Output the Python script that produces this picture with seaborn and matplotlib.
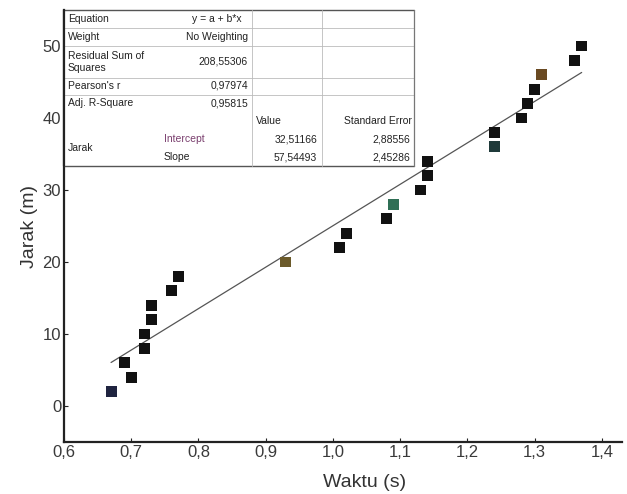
import numpy as np
import pandas as pd
import matplotlib
matplotlib.use("Agg")
import matplotlib.pyplot as plt
from matplotlib.lines import Line2D
from matplotlib.patches import Rectangle
import seaborn as sns

# ---- data ----
waktu = [0.67, 0.69, 0.70, 0.72, 0.72, 0.73, 0.73, 0.76, 0.77,
         0.93, 1.01, 1.02, 1.08, 1.09, 1.13, 1.14, 1.14,
         1.24, 1.24, 1.28, 1.29, 1.30, 1.31, 1.36, 1.37]
jarak = [2, 6, 4, 8, 10, 12, 14, 16, 18,
         20, 22, 24, 26, 28, 30, 32, 34,
         36, 38, 40, 42, 44, 46, 48, 50]
point_colors = ['#1f2440', '#111111', '#111111', '#111111', '#111111', '#111111', '#111111', '#111111', '#111111',
                '#6b5a2a', '#111111', '#111111', '#111111', '#2f6f55', '#111111', '#111111', '#111111',
                '#1f3a3a', '#111111', '#111111', '#111111', '#111111', '#6a4a22', '#111111', '#111111']
intercept = -32.51166
slope = 57.54493
x_ticks = [0.6, 0.7, 0.8, 0.9, 1.0, 1.1, 1.2, 1.3, 1.4]
x_tick_labels = ['0,6', '0,7', '0,8', '0,9', '1,0', '1,1', '1,2', '1,3', '1,4']
y_ticks = [0, 10, 20, 30, 40, 50]
y_tick_labels = ['0', '10', '20', '30', '40', '50']

table_rows = [
    ("Equation", "y = a + b*x"),
    ("Weight", "No Weighting"),
    ("Residual Sum of\nSquares", "208,55306"),
    ("Pearson's r", "0,97974"),
    ("Adj. R-Square", "0,95815"),
]
fit_header = ["Value", "Standard Error"]
fit_params = ["Intercept", "Slope"]
fit_values = ["32,51166", "57,54493"]
fit_errors = ["2,88556", "2,45286"]
fit_group = "Jarak"

df = pd.DataFrame({"Waktu": waktu, "Jarak": jarak, "pt": [str(i) for i in range(len(waktu))]})
fit_x = np.array([min(waktu), max(waktu)])
fit_df = pd.DataFrame({"x": fit_x, "y": intercept + slope * fit_x})

sns.set_style("ticks")
plt.rcParams['font.family'] = ['Liberation Sans', 'DejaVu Sans']

W, H = 627, 494
fig = plt.figure(figsize=(W / 100, H / 100), dpi=100)
L, R, T, B = 64, 622, 10, 442
ax = fig.add_axes([L / W, 1 - B / H, (R - L) / W, (B - T) / H])

sns.lineplot(data=fit_df, x="x", y="y", ax=ax, color="#555555", lw=0.9, zorder=2)
sns.scatterplot(data=df, x="Waktu", y="Jarak", hue="pt", palette=point_colors,
                marker="s", s=62, linewidth=0, legend=False, ax=ax, zorder=3)

ax.set_xlim(0.6, 1.43)
ax.set_ylim(-5, 55)
ax.set_xticks(x_ticks)
ax.set_xticklabels(x_tick_labels)
ax.set_yticks(y_ticks)
ax.set_yticklabels(y_tick_labels)
ax.tick_params(axis='both', direction='in', length=3, width=0.8, labelsize=12,
               labelcolor='#3a3a3a', color='#222222', pad=2)
for s in ['top', 'right']:
    ax.spines[s].set_visible(False)
for s in ['left', 'bottom']:
    ax.spines[s].set_color('#222222')
    ax.spines[s].set_linewidth(1.6)
ax.set_xlabel("Waktu (s)", fontsize=14, color='#333333')
ax.set_ylabel("Jarak (m)", fontsize=14, color='#333333')
ax.xaxis.set_label_coords((365 - L) / (R - L), -(482 - B) / (B - T))
ax.yaxis.set_label_coords(-(L - 30) / (R - L), 0.5)
ax.xaxis.label.set_va('center')
ax.yaxis.label.set_va('center')

# ---- fit result table (pixel layout) ----
def fx(px):
    return px / W

def fy(py):
    return 1 - py / H

def hline(y, x0, x1, color='#bbbbbb', lw=0.6):
    fig.add_artist(Line2D([fx(x0), fx(x1)], [fy(y), fy(y)], color=color, lw=lw, zorder=6))

def vline(x, y0, y1, color='#bbbbbb', lw=0.6):
    fig.add_artist(Line2D([fx(x), fx(x)], [fy(y0), fy(y1)], color=color, lw=lw, zorder=6))

tl, tr, tt, tb = 64, 414, 10, 166
fig.add_artist(Rectangle((fx(tl), fy(tb)), fx(tr) - fx(tl), fy(tt) - fy(tb),
                         facecolor='white', edgecolor='none', zorder=5))
hline(tt, tl, tr, color='#555555', lw=1.0)
hline(tb, tl, tr, color='#555555', lw=1.0)
for yy in [28, 46, 78, 95]:
    hline(yy, tl, tr)
vline(252, tt, tb)
vline(322, tt, tb)
vline(tr, tt, tb, color='#777777', lw=0.9)
vline(tl, tt, tb, color='#222222', lw=1.6)

fs = 7.5
tc = '#222222'
def ttext(x, y, s, ha='left', color=tc):
    fig.text(fx(x), fy(y), s, fontsize=fs, color=color, va='center', ha=ha,
             linespacing=1.3, zorder=10)

row_y = [19, 37, 62, 86, 103]
for (lab, val), yy in zip(table_rows, row_y):
    ttext(68, yy, lab)
    if val.startswith('y ='):
        ttext(192, yy, val)
    else:
        ttext(248, yy, val, ha='right')
ttext(256, 121, fit_header[0])
ttext(344, 121, fit_header[1])
ttext(68, 148, fit_group)
for i, yy in enumerate([139, 157]):
    ttext(164, yy, fit_params[i], color='#7a3f6e' if i == 0 else tc)
    ttext(317, yy, fit_values[i], ha='right')
    ttext(410, yy, fit_errors[i], ha='right')

fig.savefig("out.png", dpi=100)
